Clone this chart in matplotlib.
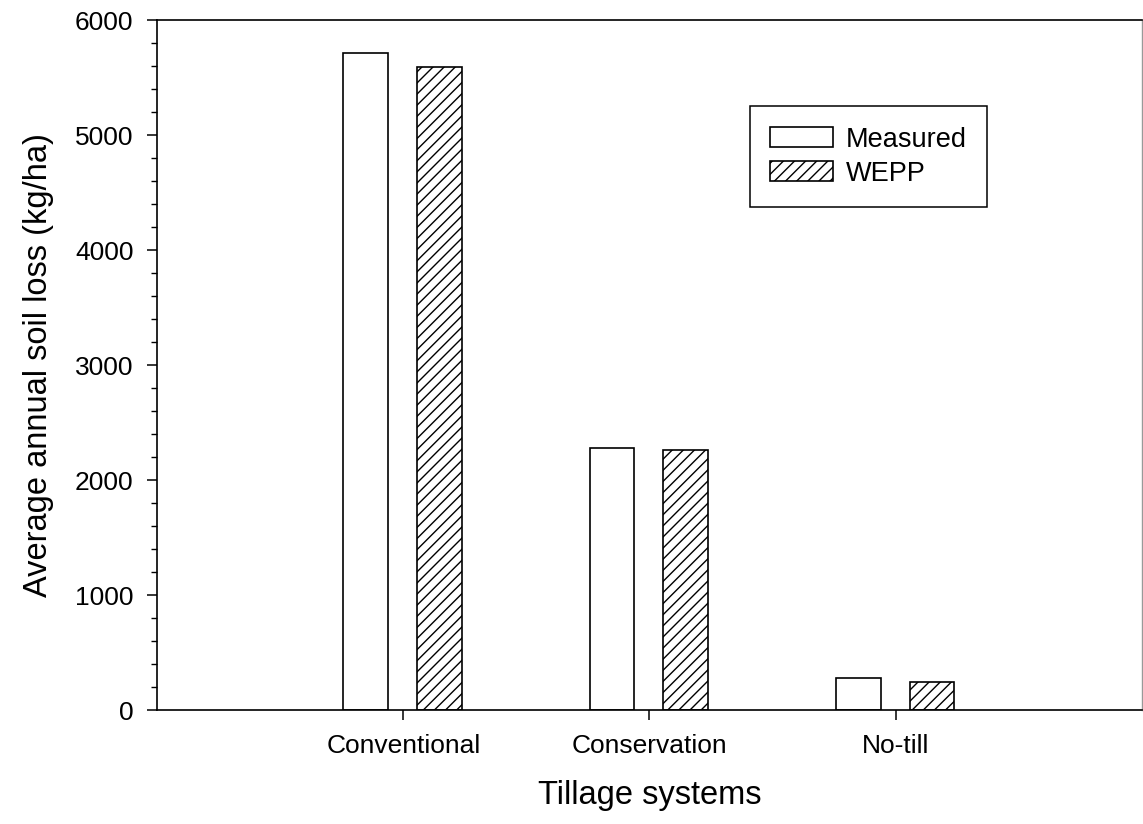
import matplotlib.pyplot as plt
from matplotlib.ticker import MultipleLocator

plt.rcParams['font.family'] = ['Liberation Sans', 'DejaVu Sans']
plt.rcParams['hatch.linewidth'] = 1.0

# average annual soil loss per tillage system (kg/ha)
systems = ["Conventional", "Conservation", "No-till"]
measured = [5710, 2280, 280]
wepp = [5590, 2260, 240]

fig = plt.figure(figsize=(11.43, 8.24), dpi=100)
ax = fig.add_axes([0.1374, 0.1383, 0.8616, 0.8374])

x = [1, 2, 3]
w = 0.182
ax.bar([i - 0.152 for i in x], measured, w, color="white", edgecolor="black",
       linewidth=1.2, label="Measured")
ax.bar([i + 0.148 for i in x], wepp, w, color="white", edgecolor="black",
       linewidth=1.2, hatch="///", label="WEPP")

ax.set_xlim(0, 4)
ax.set_ylim(0, 6000)
ax.set_xticks(x)
ax.set_xticklabels(systems)
ax.yaxis.set_major_locator(MultipleLocator(1000))
ax.yaxis.set_minor_locator(MultipleLocator(200))

ax.tick_params(axis="both", which="major", direction="out", length=7, width=1.1,
               labelsize=19)
ax.tick_params(axis="y", which="major", pad=10)
ax.tick_params(axis="x", which="major", pad=10)
ax.tick_params(axis="y", which="minor", direction="out", length=4, width=1.0)

for s in ["left", "bottom", "top"]:
    ax.spines[s].set_linewidth(1.2)
ax.spines["right"].set_linewidth(1.0)
ax.spines["right"].set_color("#999999")

ax.set_xlabel("Tillage systems", fontsize=23.5, labelpad=16)
ax.set_ylabel("Average annual soil loss (kg/ha)", fontsize=23.5, labelpad=15)

leg = ax.legend(loc="upper left", bbox_to_anchor=(0.602, 0.875), fontsize=19.5,
                frameon=True, fancybox=False, edgecolor="black", framealpha=1,
                handlelength=2.3, handleheight=0.74, handletextpad=0.5,
                labelspacing=0.3, borderpad=0.75, borderaxespad=0)
leg.get_frame().set_linewidth(1.1)

fig.savefig("out.png", dpi=100)
